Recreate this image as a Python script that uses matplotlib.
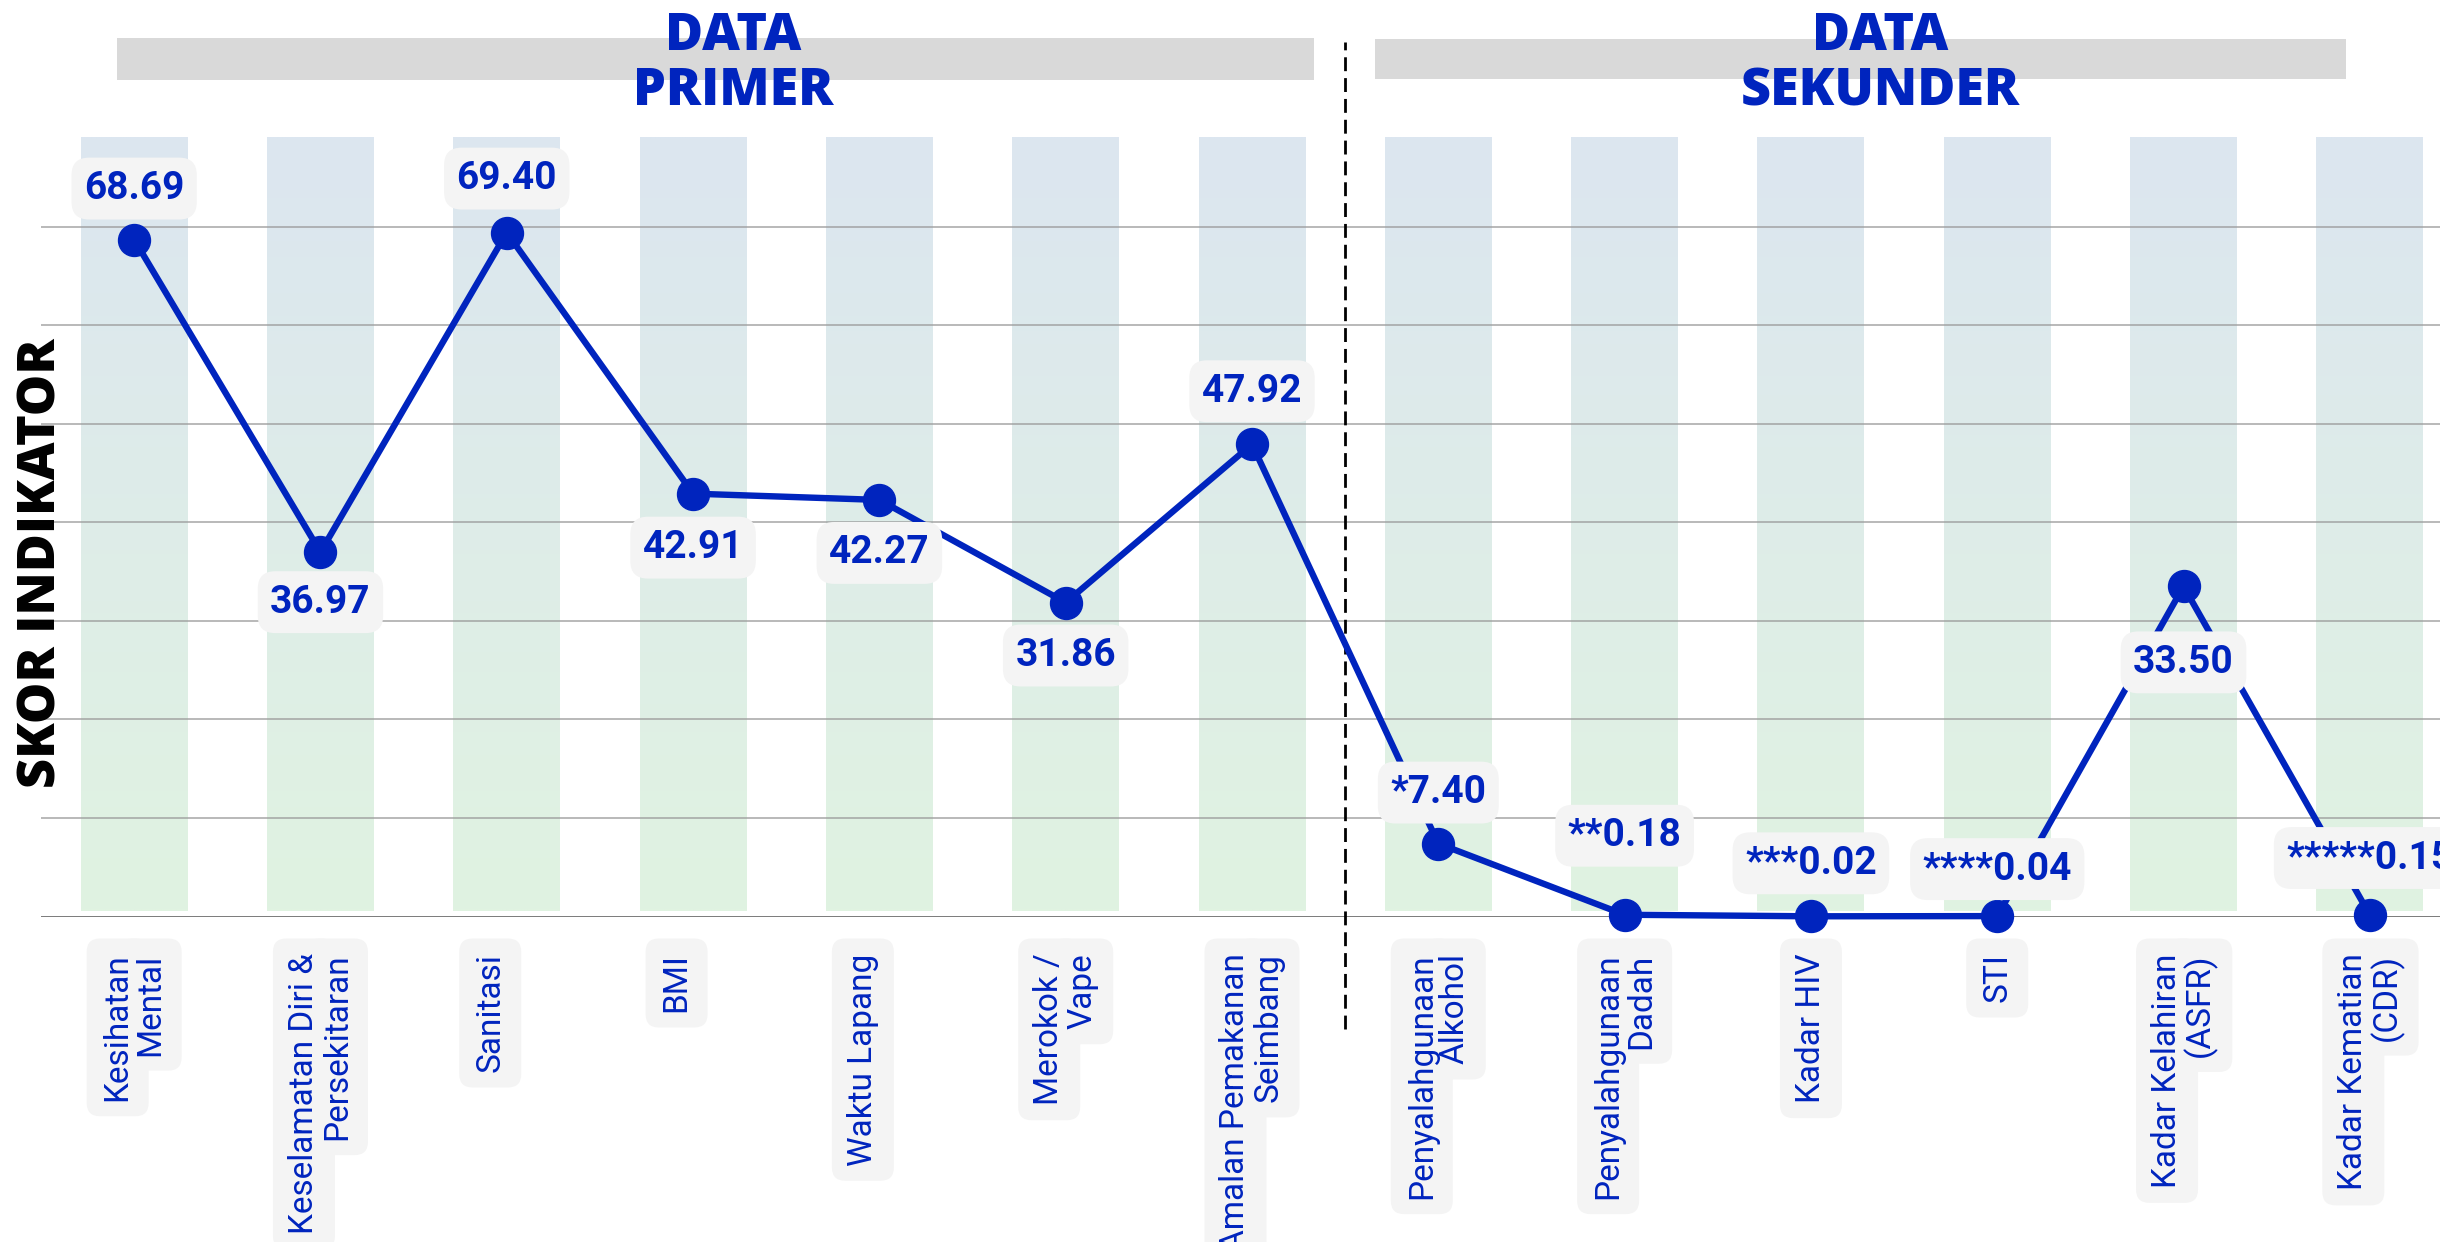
import numpy as np
import matplotlib.pyplot as plt
import matplotlib.colors as mcolors
from matplotlib.patches import Rectangle

# indicator scores, primer (0-6) then sekunder (7-12)
categories = [
    'Kesihatan\nMental',
    'Keselamatan Diri &\nPersekitaran',
    'Sanitasi\n',
    'BMI\n',
    'Waktu Lapang\n',
    'Merokok /\nVape',
    'Amalan Pemakanan\nSeimbang',
    'Penyalahgunaan\nAlkohol',
    'Penyalahgunaan\nDadah',
    'Kadar HIV',
    'STI',
    'Kadar Kelahiran\n(ASFR)',
    'Kadar Kematian\n(CDR)',
]
scores = [68.69, 36.97, 69.40, 42.91, 42.27, 31.86, 47.92,
          7.40, 0.18, 0.02, 0.04, 33.50, 0.15]
footnote_marks = ['', '', '', '', '', '', '',
                  '*', '**', '***', '****', '', '*****']

# vertical offset (pixels) of each value label from its point
label_dy = [51, -50, 54, -54, -53, -53, 53, 51, 79, 53, 47, -76, 57]

BLUE = '#0024be'
BOX = '#f4f4f4'
W, H = 2440, 1242

fig = plt.figure(figsize=(W / 100, H / 100), dpi=100)
ax = fig.add_axes([41 / W, (H - 916.5) / H, 2422 / W, 916.5 / H])
x = np.arange(len(categories))

# soft blue-to-green columns behind each category
top_c = np.array(mcolors.to_rgb('#dce6f0'))
bot_c = np.array(mcolors.to_rgb('#e0f3e1'))
t = np.linspace(0, 1, 256)[:, None]
grad = (top_c * (1 - t) + bot_c * t).reshape(256, 1, 3)
for xi in x:
    ax.imshow(grad, extent=[xi - 0.287, xi + 0.287, 0.55, 79],
              aspect='auto', zorder=0.2, interpolation='bilinear')

ax.set_xlim(-0.5, len(categories) - 0.5)
ax.set_ylim(0, 93)

for gy in range(10, 80, 10):
    ax.axhline(gy, color='#9a9a9a', lw=1.3, alpha=0.75, zorder=1)
ax.axhline(0, color='#6f6f6f', lw=2, zorder=1)

# divider between primary and secondary data
ax.plot([6.5, 6.5], [-11.4, 88.7], color='black', lw=2,
        ls=(0, (5, 2.5)), clip_on=False, zorder=2)

ax.plot(x, scores, color=BLUE, lw=4.6, marker='o', ms=23,
        zorder=3, clip_on=False)

for xi, v, mark, dy in zip(x, scores, footnote_marks, label_dy):
    ax.annotate(f'{mark}{v:.2f}', (xi, v), xytext=(0, dy),
                textcoords='offset pixels', ha='center', va='center',
                fontsize=28, fontweight='bold', family='Roboto', color=BLUE,
                bbox=dict(boxstyle='round,pad=0.32,rounding_size=0.45',
                          fc=BOX, ec='none'),
                zorder=5, annotation_clip=False)

# category labels: one rotated column per line, boxes drawn first
pitch = 33
for xi, cat in zip(x, categories):
    lines = cat.split('\n')
    n = len(lines)
    for pass_no in (0, 1):
        for j, line in enumerate(lines):
            if not line:
                continue
            dx = (j - (n - 1) / 2) * pitch
            kw = dict(xytext=(dx, -37), textcoords='offset pixels',
                      rotation=90, ha='center', va='top', fontsize=24,
                      family='Roboto', annotation_clip=False)
            if pass_no == 0:
                ax.annotate(line, (xi, 0), color='none', zorder=6,
                            bbox=dict(boxstyle='round,pad=0.45,rounding_size=0.4',
                                      fc=BOX, ec='none'), **kw)
            else:
                ax.annotate(line, (xi, 0), color=BLUE, zorder=7, **kw)

ax.set_xticks([])
ax.set_yticks([])
for s in ax.spines.values():
    s.set_visible(False)

# section headers
fig.add_artist(Rectangle((117 / W, 1 - 80 / H), 1197 / W, 42 / H,
                         transform=fig.transFigure, fc='#d9d9d9', ec='none', zorder=1))
fig.add_artist(Rectangle((1375 / W, 1 - 79 / H), 971 / W, 40 / H,
                         transform=fig.transFigure, fc='#d9d9d9', ec='none', zorder=1))
fig.text(733 / W, 1 - 64 / H, 'DATA\nPRIMER', ha='center', va='center',
         fontsize=37.5, fontweight='heavy', family='Open Sans', color=BLUE,
         linespacing=1.12, zorder=3)
fig.text(1880 / W, 1 - 64 / H, 'DATA\nSEKUNDER', ha='center', va='center',
         fontsize=37.5, fontweight='heavy', family='Open Sans', color=BLUE,
         linespacing=1.12, zorder=3)

fig.text(42 / W, 1 - 563 / H, 'SKOR INDIKATOR', rotation=90,
         ha='center', va='center', fontsize=37.5, fontweight='heavy',
         family='Open Sans', color='black')

fig.savefig('out.png', dpi=100)
